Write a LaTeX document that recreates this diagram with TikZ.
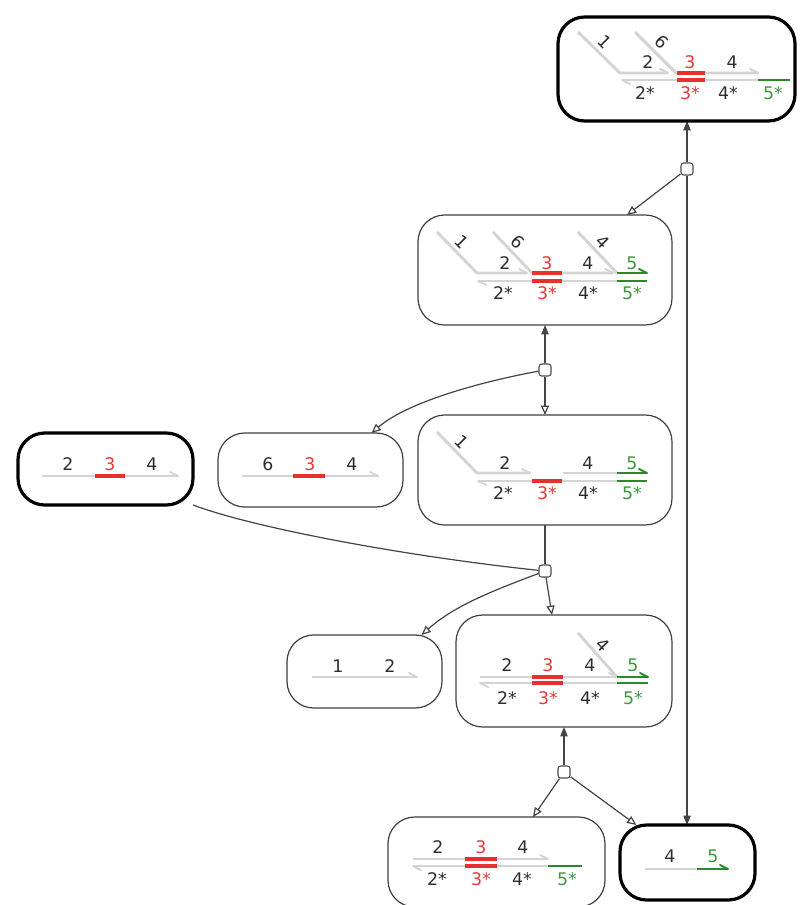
\documentclass[tikz,border=0pt]{standalone}
\usepackage{fontspec}
\setmainfont{DejaVu Sans}
\usetikzlibrary{arrows.meta,calc}
\definecolor{txt}{HTML}{2E2E2E}
\definecolor{sgray}{HTML}{D4D4D4}
\definecolor{sred}{HTML}{E8302C}
\definecolor{lred}{HTML}{E53A3A}
\definecolor{sgreen}{HTML}{2A8A2A}
\definecolor{lgreen}{HTML}{3D963D}
\definecolor{edgec}{HTML}{444444}
\pgfdeclarelayer{bg}
\pgfsetlayers{bg,main}
\begin{document}
\begin{tikzpicture}[x=0.75pt,y=-0.75pt,
  box/.style={draw=black!75, line width=0.9pt, rounded corners=20pt, fill=white, inner sep=0pt, outer sep=0pt},
  thickbox/.style={draw=black, line width=2.4pt, rounded corners=20pt, fill=white, inner sep=0pt, outer sep=0pt},
  junc/.style={draw=black!70, fill=white, rounded corners=2pt, minimum size=9pt, inner sep=0pt, line width=0.8pt},
  conn/.style={draw=edgec, line width=0.9pt},
  openarr/.style={-{Triangle[open,length=7pt,width=6pt]}},
  fillarr/.style={-{Triangle[length=7pt,width=5.5pt]}},
  strand/.style={draw=sgray, line width=2.2pt, line join=round},
  barb/.style={draw=sgray, line width=1.5pt, line cap=round},
  gbarb/.style={draw=sgreen, line width=1.5pt, line cap=round},
  redl/.style={draw=sred, line width=2.4pt},
  greenl/.style={draw=sgreen, line width=2.2pt},
  lbl/.style={font=\fontsize{13}{15}\selectfont, text=txt, inner sep=0pt},
  rl/.style={lbl, text=lred},
  gl/.style={lbl, text=lgreen},
  dl/.style={lbl, rotate=-45}
]
\begin{pgfonlayer}{bg}
\fill[white] (0,0) rectangle (805,905);
\end{pgfonlayer}
\useasboundingbox (0,0) rectangle (805,905);

% boxes
\node[thickbox, minimum width=177.75pt, minimum height=78pt] (T) at (676.5,69) {};
\node[box, minimum width=190.5pt, minimum height=82.5pt] (B2) at (545,270) {};
\node[box, minimum width=190.5pt, minimum height=82.5pt] (B3) at (545,470) {};
\node[thickbox, minimum width=131.25pt, minimum height=54pt] (L) at (105.5,469) {};
\node[box, minimum width=138.75pt, minimum height=55.5pt] (S) at (310.5,470) {};
\node[box, minimum width=116.25pt, minimum height=54.75pt] (B12) at (364.5,671.5) {};
\node[box, minimum width=162pt, minimum height=84pt] (B4) at (564,671) {};
\node[box, minimum width=162.75pt, minimum height=67.5pt] (BB) at (496.5,862) {};
\node[thickbox, minimum width=101.25pt, minimum height=56.25pt] (BR) at (687.5,862.5) {};

% junctions
\node[junc] (J1) at (687,169) {};
\node[junc] (J2) at (545,370) {};
\node[junc] (J3) at (545,571) {};
\node[junc] (J4) at (564,772) {};

% connectors
\begin{pgfonlayer}{bg}
\draw[conn, fillarr] (J1) -- (J1 |- T.south);
\draw[conn, fillarr] (J1) -- (J1 |- BR.north);
\draw[conn, openarr] (J1) -- ($(B2.north)+(82,0)$);
\draw[conn, fillarr] (J2) -- (J2 |- B2.south);
\draw[conn, openarr] (J2) -- (J2 |- B3.north);
\draw[conn, openarr] (J2) .. controls (490,380) and (410,400) .. ($(S.north)+(61,0)$);
\draw[conn] (B3.south) -- (J3);
\draw[conn] (L.south east) .. controls (260,530) and (420,558) .. (J3);
\draw[conn, openarr] (J3) .. controls (495,590) and (455,605) .. ($(B12.north)+(57,0)$);
\draw[conn, openarr] (J3) -- ($(B4.north)+(-12,0)$);
\draw[conn, fillarr] (J4) -- (J4 |- B4.south);
\draw[conn, openarr] (J4) -- ($(BB.north)+(36.5,0)$);
\draw[conn, openarr] (J4) -- (BR);
\end{pgfonlayer}

% ---- top box
\draw[strand] (578,32) -- (620,73) -- (668,73);
\draw[barb] (668,73) -- ++(-8,-4);
\draw[strand] (635,32) -- (676,73) -- (758,73);
\draw[barb] (758,73) -- ++(-8,-4);
\draw[strand] (622,80) -- (790,80);
\draw[barb] (622,80) -- ++(8,4);
\draw[redl] (677,73) -- (705,73);
\draw[redl] (677,80) -- (705,80);
\draw[greenl] (758,80) -- (790,80);
\node[dl] (t1) at (605,42) {1};
\node[dl] (t6) at (662,42) {6};
\node[lbl] (t2) at (648,62) {2};
\node[rl] (t3) at (690,62) {3};
\node[lbl] (t4) at (732,62) {4};
\node[lbl] (t2s) at (645,93) {2*};
\node[rl] (t3s) at (690,93) {3*};
\node[lbl] (t4s) at (728,93) {4*};
\node[gl] (t5s) at (773,93) {5*};

% ---- box 2
\draw[strand] (437,232) -- (477,273) -- (527,273);
\draw[barb] (527,273) -- ++(-8,-4);
\draw[strand] (493,232) -- (532,273) -- (613,273);
\draw[barb] (613,273) -- ++(-8,-4);
\draw[strand] (578,232) -- (617,273);
\draw[strand] (478,281) -- (647,281);
\draw[barb] (478,281) -- ++(8,4);
\draw[redl] (532,273) -- (562,273);
\draw[redl] (532,281) -- (562,281);
\draw[greenl] (617,273) -- (647,273);
\draw[gbarb] (647,273) -- ++(-8,-4);
\draw[greenl] (617,281) -- (647,281);
\node[dl] (a1) at (462,242) {1};
\node[dl] (a6) at (518,242) {6};
\node[dl] (a4d) at (603,242) {4};
\node[lbl] (a2) at (505,263) {2};
\node[rl] (a3) at (547,263) {3};
\node[lbl] (a4) at (588,263) {4};
\node[gl] (a5) at (632,263) {5};
\node[lbl] (a2s) at (503,293) {2*};
\node[rl] (a3s) at (547,293) {3*};
\node[lbl] (a4s) at (588,293) {4*};
\node[gl] (a5s) at (632,293) {5*};

% ---- box 3
\draw[strand] (437,432) -- (477,473) -- (530,473);
\draw[barb] (530,473) -- ++(-8,-4);
\draw[strand] (563,473) -- (617,473);
\draw[greenl] (617,473) -- (647,473);
\draw[gbarb] (647,473) -- ++(-8,-4);
\draw[strand] (478,481) -- (647,481);
\draw[barb] (478,481) -- ++(8,4);
\draw[redl] (532,481) -- (562,481);
\draw[greenl] (617,481) -- (647,481);
\node[dl] (b1) at (462,442) {1};
\node[lbl] (b2) at (505,463) {2};
\node[lbl] (b4) at (588,463) {4};
\node[gl] (b5) at (632,463) {5};
\node[lbl] (b2s) at (503,493) {2*};
\node[rl] (b3s) at (547,493) {3*};
\node[lbl] (b4s) at (588,493) {4*};
\node[gl] (b5s) at (632,493) {5*};

% ---- left thick box
\draw[strand] (42,476) -- (178,476);
\draw[barb] (178,476) -- ++(-8,-4);
\draw[redl] (95,476) -- (125,476);
\node[lbl] (l2) at (68,464) {2};
\node[rl] (l3) at (110,464) {3};
\node[lbl] (l4) at (152,464) {4};

% ---- 6 3 4 box
\draw[strand] (242,476) -- (378,476);
\draw[barb] (378,476) -- ++(-8,-4);
\draw[redl] (293,476) -- (325,476);
\node[lbl] (s6) at (268,464) {6};
\node[rl] (s3) at (310,464) {3};
\node[lbl] (s4) at (352,464) {4};

% ---- 1 2 box
\draw[strand] (312,677) -- (417,677);
\draw[barb] (417,677) -- ++(-8,-4);
\node[lbl] (c1) at (338,666) {1};
\node[lbl] (c2) at (390,666) {2};

% ---- box 4
\draw[strand] (480,677) -- (617,677);
\draw[barb] (617,677) -- ++(-8,-4);
\draw[strand] (578,633) -- (617,677);
\draw[strand] (480,683) -- (648,683);
\draw[barb] (480,683) -- ++(8,4);
\draw[redl] (532,677) -- (563,677);
\draw[redl] (532,683) -- (563,683);
\draw[greenl] (617,677) -- (648,677);
\draw[gbarb] (648,677) -- ++(-8,-4);
\draw[greenl] (617,683) -- (648,683);
\node[dl] (d4d) at (603,645) {4};
\node[lbl] (d2) at (507,665) {2};
\node[rl] (d3) at (548,665) {3};
\node[lbl] (d4) at (590,665) {4};
\node[gl] (d5) at (633,665) {5};
\node[lbl] (d2s) at (507,698) {2*};
\node[rl] (d3s) at (548,698) {3*};
\node[lbl] (d4s) at (590,698) {4*};
\node[gl] (d5s) at (633,698) {5*};

% ---- bottom box
\draw[strand] (413,859) -- (548,859);
\draw[barb] (548,859) -- ++(-8,-4);
\draw[strand] (413,866) -- (582,866);
\draw[barb] (413,866) -- ++(8,4);
\draw[redl] (465,859) -- (497,859);
\draw[redl] (465,866) -- (497,866);
\draw[greenl] (548,866) -- (582,866);
\node[lbl] (e2) at (438,847) {2};
\node[rl] (e3) at (481,847) {3};
\node[lbl] (e4) at (523,847) {4};
\node[lbl] (e2s) at (437,879) {2*};
\node[rl] (e3s) at (481,879) {3*};
\node[lbl] (e4s) at (522,879) {4*};
\node[gl] (e5s) at (567,879) {5*};

% ---- bottom right thick box
\draw[strand] (645,869) -- (697,869);
\draw[greenl] (697,869) -- (728,869);
\draw[gbarb] (728,869) -- ++(-8,-4);
\node[lbl] (f4) at (670,856) {4};
\node[gl] (f5) at (713,856) {5};
\end{tikzpicture}
\end{document}
